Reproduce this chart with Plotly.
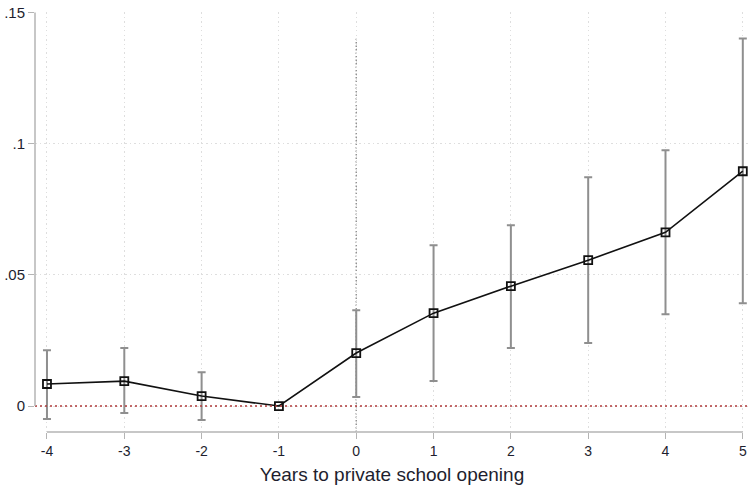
import plotly.graph_objects as go

# Event-study estimates by years relative to private school opening
years = [-4, -3, -2, -1, 0, 1, 2, 3, 4, 5]
estimate = [0.0084, 0.0095, 0.0038, 0.0, 0.0202, 0.0354, 0.0457, 0.0556, 0.0662, 0.0895]
ci_upper = [0.0213, 0.0221, 0.0129, 0.0, 0.0365, 0.0613, 0.0689, 0.0872, 0.0975, 0.1401]
ci_lower = [-0.0049, -0.0027, -0.0053, 0.0, 0.0034, 0.0095, 0.0221, 0.0240, 0.0350, 0.0392]

y_tick_vals = [0, 0.05, 0.1, 0.15]
y_tick_text = ["0", ".05", ".1", ".15"]

err_plus = [u - e for u, e in zip(ci_upper, estimate)]
err_minus = [e - l for e, l in zip(estimate, ci_lower)]

FONT = "Liberation Sans, Arial, sans-serif"
TEXT = "#1e1e2e"
Y_MIN, Y_MAX = -0.0099, 0.1502

fig = go.Figure()

# confidence intervals
fig.add_trace(go.Scatter(
    x=years, y=estimate, mode="markers",
    marker=dict(size=1, color="rgba(0,0,0,0)"),
    error_y=dict(type="data", symmetric=False, array=err_plus, arrayminus=err_minus,
                 color="#8f8f8f", thickness=2, width=4),
    hoverinfo="skip", showlegend=False,
))

# point estimates
fig.add_trace(go.Scatter(
    x=years, y=estimate, mode="lines+markers",
    line=dict(color="#111111", width=1.6),
    marker=dict(symbol="square-open", size=8, color="#111111", line=dict(width=1.8)),
    showlegend=False,
))

shapes = [
    # zero reference line
    dict(type="line", xref="paper", x0=0, x1=1, yref="y", y0=0, y1=0,
         line=dict(color="#b03a3a", width=1.5, dash="2px,3px"), layer="above"),
    # opening year marker
    dict(type="line", xref="x", x0=0, x1=0, yref="y", y0=Y_MIN, y1=0.14,
         line=dict(color="#8c8c8c", width=1.4, dash="1.5px,2px"), layer="below"),
    # y axis spine over the labelled range
    dict(type="line", xref="paper", x0=0, x1=0, yref="y", y0=0, y1=0.15,
         line=dict(color="#b4b4b4", width=1.5)),
    # x axis spine over the labelled range
    dict(type="line", xref="x", x0=-4, x1=5, yref="paper", y0=0, y1=0,
         line=dict(color="#b4b4b4", width=1.5)),
]

fig.update_layout(
    width=751, height=487,
    margin=dict(l=35, r=2, t=12, b=55),
    paper_bgcolor="white", plot_bgcolor="white",
    font=dict(family=FONT, color=TEXT, size=14),
    shapes=shapes,
    xaxis=dict(
        range=[-4.155, 5.08],
        tickvals=years, ticktext=[str(v) for v in years],
        ticks="outside", ticklen=6, tickcolor="#b4b4b4", tickwidth=1.3,
        showline=False, zeroline=False,
        showgrid=True, gridcolor="#dedede", griddash="1.5px,3px", gridwidth=1,
        tickfont=dict(size=14, color=TEXT),
        title=dict(text="Years to private school opening", font=dict(size=19, color=TEXT), standoff=9),
    ),
    yaxis=dict(
        range=[Y_MIN, Y_MAX],
        tickvals=y_tick_vals, ticktext=y_tick_text,
        ticks="outside", ticklen=6, tickcolor="#b4b4b4", tickwidth=1.3,
        showline=False, zeroline=False,
        showgrid=True, gridcolor="#dedede", griddash="1.5px,3px", gridwidth=1,
        tickfont=dict(size=15, color=TEXT),
    ),
)

fig.write_html("out.html")
